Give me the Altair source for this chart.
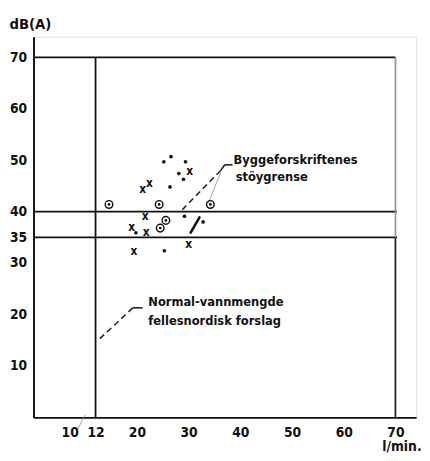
import altair as alt
import pandas as pd

FONT = "DejaVu Sans Condensed"

# scatter data
cross_x = [30.2, 22.4, 21.1, 21.6, 19.0, 21.8, 19.4, 30.0]
cross_y = [47.8, 45.5, 44.4, 39.1, 37.0, 36.1, 32.3, 33.6]
dot_x = [26.6, 25.2, 29.4, 28.1, 29.0, 26.4, 29.2, 32.8, 19.8, 25.3]
dot_y = [50.7, 49.7, 49.7, 47.4, 46.3, 44.8, 39.1, 38.0, 35.9, 32.4]
dome_x = [14.6, 24.3, 34.2]
dome_y = [41.4, 41.4, 41.4]
ring_x = [25.6, 24.5]
ring_y = [38.3, 36.8]

# limit lines
hline_y = [70, 40, 35]
hline_x1 = [0, 0, 0]
hline_x2 = [70, 70.3, 70.3]
vline_x = [12, 70, 70]
vline_y1 = [0, 0, 35]
vline_y2 = [70, 35, 70]
vline_col = ["#111111", "#222222", "#999999"]

# leader lines (x, y, x2, y2, style)
lead_x1 = [38.5, 37.0, 36.2, 36.2, 30.4, 21.1, 19.2, 8.6]
lead_y1 = [49.1, 49.1, 48.0, 47.6, 35.9, 21.3, 21.3, -2.2]
lead_x2 = [37.0, 36.2, 28.8, 33.8, 32.1, 19.2, 12.3, 10.0]
lead_y2 = [49.1, 48.0, 40.4, 41.6, 38.9, 21.3, 14.8, 0.5]
lead_style = ["solid", "solid", "dash", "thin", "thick", "solid", "dash", "thin"]

# annotation texts
ann_text = ["Byggeforskriftenes", "stöygrense", "Normal-vannmengde", "fellesnordisk forslag", "10"]
ann_x = [38.7, 39.1, 22.2, 22.2, 7.1]
ann_y = [50.1, 46.7, 22.4, 18.8, -3.05]

x_ticks = [12, 20, 30, 40, 50, 60, 70]
y_ticks = [10, 20, 30, 35, 40, 50, 60, 70]

xs = alt.Scale(domain=[0, 74], nice=False, zero=False)
ys = alt.Scale(domain=[0, 74], nice=False, zero=False)

xaxis = alt.Axis(values=x_ticks, grid=False, ticks=False, domainColor="#111", domainWidth=2,
                 labelFont=FONT, labelFontSize=14, labelFontWeight="bold", labelColor="#111", labelPadding=8,
                 title="l/min.", titleFont=FONT, titleFontSize=14, titleFontWeight="bold",
                 titleColor="#111", titleX=355, titleY=34, titleAlign="left",
                 titleBaseline="alphabetic", titleAnchor="start")
yaxis = alt.Axis(values=y_ticks, grid=False, ticks=False, domainColor="#111", domainWidth=2,
                 labelFont=FONT, labelFontSize=14, labelFontWeight="bold", labelColor="#111", labelPadding=7,
                 title="dB(A)", titleFont=FONT, titleFontSize=15, titleFontWeight="bold",
                 titleColor="#111", titleAngle=0, titleX=-25, titleY=-8, titleAlign="left",
                 titleBaseline="alphabetic", titleAnchor="start")

hdf = pd.DataFrame({"y": hline_y, "x1": hline_x1, "x2": hline_x2})
vdf = pd.DataFrame({"x": vline_x, "y1": vline_y1, "y2": vline_y2, "c": vline_col})

base_axes = alt.Chart(hdf).mark_rule(color="#111", strokeWidth=1.8).encode(
    x=alt.X("x1:Q", scale=xs, axis=xaxis),
    x2="x2:Q",
    y=alt.Y("y:Q", scale=ys, axis=yaxis),
)
vlines = alt.Chart(vdf).mark_rule(strokeWidth=1.8).encode(
    x=alt.X("x:Q", scale=xs), y=alt.Y("y1:Q", scale=ys), y2="y2:Q",
    color=alt.Color("c:N", scale=None),
)

ldf = pd.DataFrame({"x": lead_x1, "y": lead_y1, "x2": lead_x2, "y2": lead_y2, "d": lead_style})
enc = dict(x=alt.X("x:Q", scale=xs), y=alt.Y("y:Q", scale=ys), x2="x2:Q", y2="y2:Q")
lead_solid = alt.Chart(ldf[ldf.d == "solid"]).mark_rule(color="#222", strokeWidth=1.6, clip=False).encode(**enc)
lead_dashed = alt.Chart(ldf[ldf.d == "dash"]).mark_rule(color="#222", strokeWidth=1.6, strokeDash=[6, 4], clip=False).encode(**enc)
lead_thin = alt.Chart(ldf[ldf.d == "thin"]).mark_rule(color="#888", strokeWidth=0.8, clip=False).encode(**enc)
lead_thick = alt.Chart(ldf[ldf.d == "thick"]).mark_rule(color="#111", strokeWidth=2.6, strokeCap="round", clip=False).encode(**enc)

cdf = pd.DataFrame({"x": cross_x, "y": cross_y})
crosses = alt.Chart(cdf).mark_text(text="x", font=FONT, fontSize=12, fontWeight="bold", color="#111", baseline="middle").encode(
    x=alt.X("x:Q", scale=xs), y=alt.Y("y:Q", scale=ys))

ddf = pd.DataFrame({"x": dot_x, "y": dot_y})
dots = alt.Chart(ddf).mark_point(filled=True, size=14, color="#111", opacity=1).encode(
    x=alt.X("x:Q", scale=xs), y=alt.Y("y:Q", scale=ys))

rdf = pd.DataFrame({"x": ring_x + dome_x, "y": ring_y + dome_y})
rings = alt.Chart(rdf).mark_point(filled=False, size=60, color="#111", strokeWidth=1.5, opacity=1).encode(
    x=alt.X("x:Q", scale=xs), y=alt.Y("y:Q", scale=ys))
ring_dots = alt.Chart(rdf).mark_point(filled=True, size=8, color="#111", opacity=1).encode(
    x=alt.X("x:Q", scale=xs), y=alt.Y("y:Q", scale=ys))

adf = pd.DataFrame({"t": ann_text, "x": ann_x, "y": ann_y})
ann_main = alt.Chart(adf[adf.t != "10"]).mark_text(font=FONT, fontSize=13, fontWeight="bold", color="#111", align="left", baseline="middle", clip=False).encode(
    x=alt.X("x:Q", scale=xs), y=alt.Y("y:Q", scale=ys), text="t:N")
ann_ten = alt.Chart(adf[adf.t == "10"]).mark_text(font=FONT, fontSize=14, fontWeight="bold", color="#111", align="center", baseline="middle", clip=False).encode(
    x=alt.X("x:Q", scale=xs), y=alt.Y("y:Q", scale=ys), text="t:N")

chart = alt.layer(
    base_axes, vlines, lead_solid, lead_dashed, lead_thin, lead_thick,
    crosses, dots, rings, ring_dots, ann_main, ann_ten,
).properties(
    width=390, height=388,
    autosize=alt.AutoSizeParams(type="none"),
    padding={"left": 26, "top": 25, "right": 6, "bottom": 32},
).configure_view(stroke=None).configure(background="white")

chart.save("out.html", embed_options={"renderer": "svg", "actions": False})
